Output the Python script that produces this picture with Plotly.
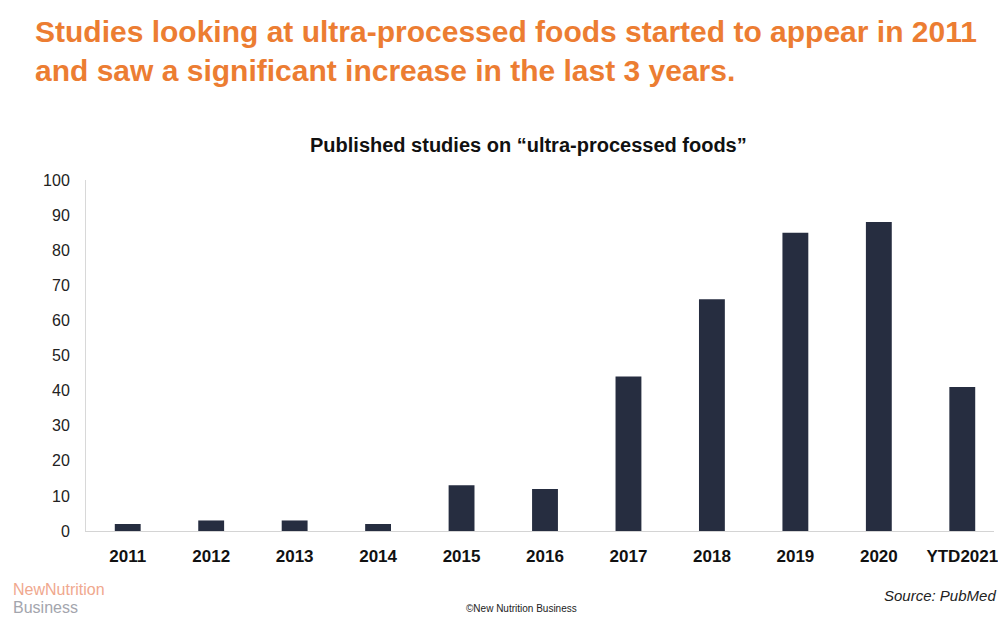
import plotly.graph_objects as go

# Published studies per year on "ultra-processed foods"
years = ["2011", "2012", "2013", "2014", "2015", "2016", "2017", "2018", "2019", "2020", "YTD2021"]
studies = [2, 3, 3, 2, 13, 12, 44, 66, 85, 88, 41]
y_ticks = [0, 10, 20, 30, 40, 50, 60, 70, 80, 90, 100]

BAR = "#262d40"
ORANGE = "#ec7d32"

W, H = 998, 617
L, R, T, B = 86, 0, 180, 86

fig = go.Figure(
    go.Bar(x=years, y=studies, marker=dict(color=BAR, line=dict(width=0)), hoverinfo="x+y")
)

fig.update_layout(
    width=W,
    height=H,
    margin=dict(l=L, r=R, t=T, b=B),
    paper_bgcolor="white",
    plot_bgcolor="white",
    bargap=0.69,
    showlegend=False,
    font=dict(family="Liberation Sans, Arial, sans-serif", color="#111111"),
)

fig.update_xaxes(
    type="category",
    range=[-0.5, 10.38],
    showgrid=False,
    showline=True,
    linecolor="#d4d4d4",
    linewidth=1,
    ticks="",
    ticklabelstandoff=10,
    tickfont=dict(size=17, color="#111111", family="Liberation Sans, Arial, sans-serif", weight="bold"),
)

fig.update_yaxes(
    range=[0, 100],
    tickvals=y_ticks,
    showgrid=False,
    zeroline=False,
    showline=True,
    linecolor="#d8d8d8",
    linewidth=1,
    ticks="",
    ticklabelstandoff=12,
    tickfont=dict(size=16, color="#222222"),
)


def px_note(x, y, text, **kw):
    """Place an annotation at pixel coordinates measured from the top-left corner."""
    fig.add_annotation(
        x=(x - L) / (W - L - R), y=(H - y - B) / (H - T - B),
        xref="paper", yref="paper", text=text, showarrow=False, **kw
    )


headline = ("Studies looking at ultra-processed foods started to appear in 2011<br>"
            "and saw a significant increase in the last 3 years.")
px_note(33, 13, headline, xanchor="left", yanchor="top", align="left",
        font=dict(size=30, color=ORANGE,
                  family="Liberation Sans Narrow, Arial Narrow, Liberation Sans, sans-serif",
                  weight="bold"))

px_note(530, 145, "Published studies on “ultra-processed foods”", xanchor="center", yanchor="middle",
        font=dict(size=20, color="#111111", weight="bold"))

px_note(11, 589, "NewNutrition", xanchor="left", yanchor="middle",
        font=dict(size=16, color="#f0a88e"))
px_note(11, 607, "Business", xanchor="left", yanchor="middle",
        font=dict(size=16, color="#a3a5ad"))

px_note(523, 608, "©New Nutrition Business", xanchor="center", yanchor="middle",
        font=dict(size=10, color="#222222"))

px_note(886, 595, "<i>Source: PubMed</i>", xanchor="left", yanchor="middle",
        font=dict(size=15, color="#222222"))

fig.write_html("out.html")
